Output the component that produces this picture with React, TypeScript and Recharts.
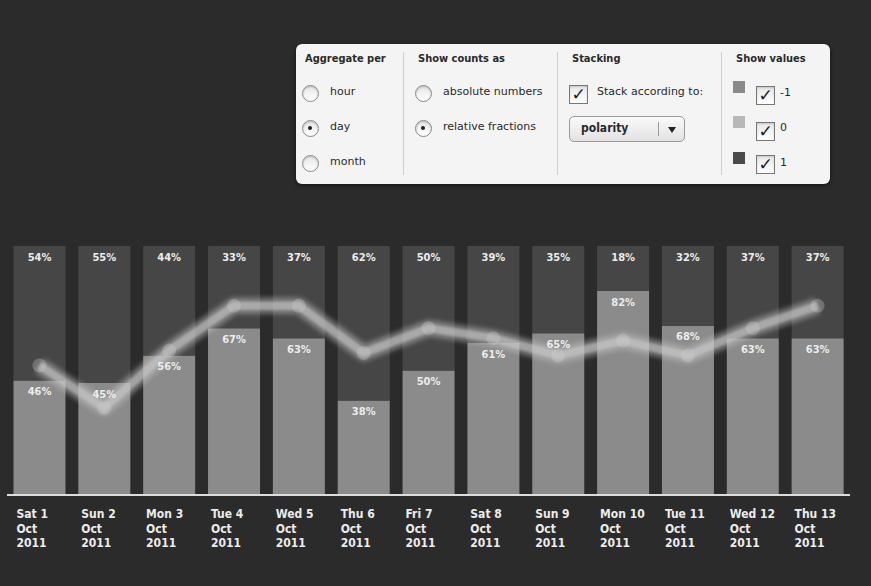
import React from 'react';
import { ComposedChart, Bar, Line, XAxis, YAxis, LabelList } from 'recharts';

const dayLabels = ['Sat 1', 'Sun 2', 'Mon 3', 'Tue 4', 'Wed 5', 'Thu 6', 'Fri 7', 'Sat 8', 'Sun 9', 'Mon 10', 'Tue 11', 'Wed 12', 'Thu 13'];
const monthLabel = 'Oct';
const yearLabel = '2011';
const lowerShare = [46, 45, 56, 67, 63, 38, 50, 61, 65, 82, 68, 63, 63];
const upperShare = [54, 55, 44, 33, 37, 62, 50, 39, 35, 18, 32, 37, 37];
const trendLine = [52, 35, 58, 76, 76, 57, 67, 63, 56, 62, 56, 67, 76];

const data = dayLabels.map((d, i) => ({
  day: d,
  lower: lowerShare[i],
  upper: upperShare[i],
  trend: trendLine[i],
}));

const BG = '#2b2b2b';
const UPPER = '#464646';
const LOWER = '#8b8b8b';
const LABEL = '#ececec';
const CFONT = "'DejaVu Sans Condensed', 'DejaVu Sans', sans-serif";
const PFONT = "'DejaVu Sans', sans-serif";

const pct = (v: any) => `${v}%`;

const DayTick = (props: any) => {
  const { x, y, payload } = props;
  const lx = x - 23;
  return (
    <text x={lx} y={y} fill={LABEL} fontSize={12} fontWeight="bold" fontFamily={CFONT}>
      <tspan x={lx} dy={23}>{payload.value}</tspan>
      <tspan x={lx} dy={14.5}>{monthLabel}</tspan>
      <tspan x={lx} dy={14.5}>{yearLabel}</tspan>
    </text>
  );
};

const T = ({ x, y, children, bold, size }: any) => (
  <div
    style={{
      position: 'absolute',
      left: x,
      top: y - 8,
      lineHeight: '16px',
      height: 16,
      whiteSpace: 'nowrap',
      fontSize: size || 11,
      fontFamily: bold ? CFONT : PFONT,
      fontWeight: bold ? 'bold' : 'normal',
      color: '#2a2a2a',
    }}
  >
    {children}
  </div>
);

const Radio = ({ cx, cy, on }: any) => (
  <div
    style={{
      position: 'absolute',
      left: cx - 8.5,
      top: cy - 8.5,
      width: 15,
      height: 15,
      borderRadius: '50%',
      border: '1px solid #8a8a8a',
      background: 'linear-gradient(#e6e6e6, #ffffff)',
      boxShadow: 'inset 0 1px 2px rgba(0,0,0,0.2)',
    }}
  >
    {on ? (
      <div
        style={{
          position: 'absolute',
          left: 5.5,
          top: 5.5,
          width: 4,
          height: 4,
          borderRadius: '50%',
          background: '#222',
        }}
      />
    ) : null}
  </div>
);

const Check = ({ x, y }: any) => (
  <div
    style={{
      position: 'absolute',
      left: x,
      top: y,
      width: 17,
      height: 17,
      border: '1px solid #777',
      background: 'linear-gradient(#e8e8e8, #ffffff)',
      boxShadow: 'inset 0 1px 2px rgba(0,0,0,0.15)',
      fontFamily: PFONT,
      fontSize: 17,
      fontWeight: 'bold',
      lineHeight: '17px',
      textAlign: 'center',
      color: '#1a1a1a',
    }}
  >
    ✓
  </div>
);

const Swatch = ({ x, y, color }: any) => (
  <div style={{ position: 'absolute', left: x, top: y, width: 12, height: 12, background: color }} />
);

const Divider = ({ x }: any) => (
  <div style={{ position: 'absolute', left: x, top: 8, width: 1, height: 123, background: '#cfcfcf' }} />
);

const Panel = () => (
  <div
    style={{
      position: 'absolute',
      left: 296,
      top: 44,
      width: 534,
      height: 140,
      background: '#f4f4f4',
      borderRadius: 6,
      boxShadow: '0 1px 4px rgba(0,0,0,0.6)',
    }}
  >
    <Divider x={107} />
    <Divider x={261} />
    <Divider x={425} />

    <T x={9} y={15} bold>Aggregate per</T>
    <Radio cx={14} cy={49} />
    <T x={34} y={48}>hour</T>
    <Radio cx={14} cy={84} on />
    <T x={34} y={83}>day</T>
    <Radio cx={14} cy={119} />
    <T x={34} y={118}>month</T>

    <T x={122} y={15} bold>Show counts as</T>
    <Radio cx={127} cy={49} />
    <T x={147} y={48}>absolute numbers</T>
    <Radio cx={127} cy={84} on />
    <T x={147} y={83}>relative fractions</T>

    <T x={276} y={15} bold>Stacking</T>
    <Check x={273} y={41} />
    <T x={301} y={48}>Stack according to:</T>
    <div
      style={{
        position: 'absolute',
        left: 273,
        top: 72,
        width: 114,
        height: 24,
        borderRadius: 5,
        border: '1px solid #9a9a9a',
        background: 'linear-gradient(#fafafa, #e2e2e2)',
      }}
    >
      <div style={{ position: 'absolute', left: 88, top: 5, width: 1, height: 14, background: '#999' }} />
      <div
        style={{
          position: 'absolute',
          left: 98,
          top: 10,
          width: 0,
          height: 0,
          borderLeft: '4px solid transparent',
          borderRight: '4px solid transparent',
          borderTop: '6px solid #222',
        }}
      />
    </div>
    <T x={285} y={84} bold size={12}>polarity</T>

    <T x={440} y={15} bold>Show values</T>
    <Swatch x={437} y={37} color="#8a8a8a" />
    <Check x={460} y={42} />
    <T x={484} y={49}>-1</T>
    <Swatch x={437} y={72} color="#b8b8b8" />
    <Check x={460} y={78} />
    <T x={484} y={84}>0</T>
    <Swatch x={437} y={108} color="#4a4a4a" />
    <Check x={460} y={111} />
    <T x={484} y={119}>1</T>
  </div>
);

export default function App() {
  return (
    <div style={{ position: 'fixed', left: 0, top: 0, width: 871, height: 586, background: BG, overflow: 'hidden' }}>
      <style>{`
        .glow-outer .recharts-line-curve { filter: blur(2.5px); }
        .glow-inner .recharts-line-curve { filter: blur(1px); }
        .glow-inner .recharts-line-dots { filter: blur(1.5px); }
      `}</style>
      <ComposedChart
        width={871}
        height={586}
        data={data}
        margin={{ top: 246, right: 21, bottom: 61, left: 7 }}
        barCategoryGap="10%"
      >
        <XAxis
          dataKey="day"
          height={30}
          axisLine={{ stroke: '#dcdcdc', strokeWidth: 2 }}
          tickLine={false}
          tickSize={0}
          tickMargin={0}
          interval={0}
          tick={<DayTick />}
        />
        <YAxis hide domain={[0, 100]} />
        <Bar dataKey="lower" stackId="s" fill={LOWER} isAnimationActive={false}>
          <LabelList dataKey="lower" position="insideTop" offset={7} formatter={pct} fill={LABEL} fontSize={11} fontWeight="bold" fontFamily={CFONT} />
        </Bar>
        <Bar dataKey="upper" stackId="s" fill={UPPER} isAnimationActive={false}>
          <LabelList dataKey="upper" position="insideTop" offset={7} formatter={pct} fill={LABEL} fontSize={11} fontWeight="bold" fontFamily={CFONT} />
        </Bar>
        <Line
          className="glow-outer"
          dataKey="trend"
          stroke="#c4c4c4"
          strokeOpacity={0.5}
          strokeWidth={16}
          strokeLinejoin="round"
          dot={false}
          activeDot={false}
          isAnimationActive={false}
        />
        <Line
          className="glow-inner"
          dataKey="trend"
          stroke="#cdcdcd"
          strokeOpacity={0.5}
          strokeWidth={8}
          strokeLinejoin="round"
          dot={{ r: 7, fill: '#d2d2d2', fillOpacity: 0.3, stroke: 'none' }}
          activeDot={false}
          isAnimationActive={false}
        />
      </ComposedChart>
      <Panel />
    </div>
  );
}
